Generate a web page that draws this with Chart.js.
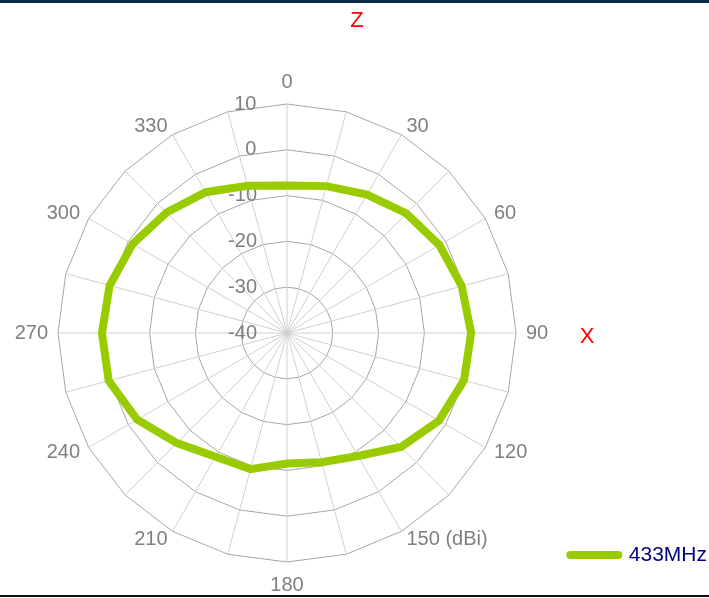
<!DOCTYPE html>
<html><head><meta charset="utf-8">
<script src="https://cdn.jsdelivr.net/npm/chart.js@4/dist/chart.umd.min.js"></script>
<style>
html,body{margin:0;padding:0;background:#fff;overflow:hidden}
#wrap{position:relative;width:709px;height:598px}
#topbar{position:absolute;left:0;top:0;width:709px;height:3px;background:#0b2b43}
#botline{position:absolute;left:0;top:595px;width:709px;height:2px;background:#111}
</style></head><body>
<div id="wrap"><canvas id="c" width="709" height="598"></canvas><div id="topbar"></div><div id="botline"></div></div>
<script>
// ---- data ----
const angles = [0,15,30,45,60,75,90,105,120,135,150,165,180,195,210,225,240,255,270,285,300,315,330,345];
const angleLabels = ['0','','30','','60','','90','','120','','150','','180','','210','','240','','270','','300','','330',''];
const unitLabel = '(dBi)';
const seriesName = '433MHz';
const gain433 = [-7.8,-6.8,-5.1,-3.1,-1.6,-0.5,0.2,0.0,-1.7,-4.8,-9.0,-10.8,-11.5,-9.2,-8.8,-6.0,-2.2,0.3,0.4,0.1,-1.1,-2.8,-4.5,-6.7];
const radialMin = -40, radialMax = 10, radialStep = 10;
const titleText = 'Z';
const sideText = 'X';

const FONT = "'Liberation Sans', Arial, sans-serif";
const GREY = '#808080';

const mctx = document.createElement('canvas').getContext('2d');
mctx.font = '20px ' + FONT;
function padRight(s){
  const w = mctx.measureText(s).width, sp = mctx.measureText(' ').width;
  return s + ' '.repeat(Math.max(0, Math.round((w + 62) / sp)));
}
function labelPad(i){ return i === 0 ? 10 : (i === 12 ? 11 : -2); }

const sideLabel = {
  id: 'sideLabel',
  afterDraw(chart){
    const s = chart.scales.r, ctx = chart.ctx;
    ctx.save();
    ctx.font = '22px ' + FONT;
    ctx.fillStyle = '#ff0000';
    ctx.textAlign = 'center';
    ctx.textBaseline = 'middle';
    ctx.fillText(sideText, s.xCenter + 300, s.yCenter + 4);
    ctx.restore();
  }
};

new Chart(document.getElementById('c'), {
  type: 'radar',
  data: {
    labels: angleLabels,
    datasets: [{
      label: seriesName,
      data: gain433,
      borderColor: '#99cc00',
      backgroundColor: '#99cc00',
      borderWidth: 8,
      borderCapStyle: 'round',
      pointRadius: 0,
      pointHitRadius: 0,
      pointStyle: 'line',
      fill: false
    }]
  },
  plugins: [sideLabel],
  options: {
    responsive: false,
    animation: false,
    layout: { padding: { top: 0, left: 9, right: -8, bottom: 12 } },
    plugins: {
      tooltip: { enabled: false },
      title: {
        display: true, text: titleText + '  ', color: '#ff0000',
        font: { family: FONT, size: 22, weight: 'normal' },
        padding: { top: 8, bottom: 47.6 }
      },
      legend: {
        position: 'right', align: 'end',
        labels: {
          usePointStyle: true, pointStyleWidth: 48, padding: 15,
          color: '#000080', font: { family: FONT, size: 21, lineHeight: '26.5px' },
          generateLabels(chart){
            return Chart.defaults.plugins.legend.labels.generateLabels(chart).map(it =>
              Object.assign(it, { text: [it.text], pointStyle: 'line', lineCap: 'round' }));
          }
        }
      }
    },
    scales: {
      r: {
        min: radialMin, max: radialMax, startAngle: 0,
        grid: { circular: false, color: '#a6a6a6', lineWidth: 1 },
        angleLines: { color: '#d0d0d0', lineWidth: 1 },
        ticks: {
          stepSize: radialStep, showLabelBackdrop: false, color: GREY,
          font: { family: FONT, size: 20 },
          callback: (v) => padRight(String(v))
        },
        pointLabels: {
          color: GREY,
          font: { family: FONT, size: 20, lineHeight: 0 },
          padding: (ctx) => labelPad(ctx.index),
          callback: (label, i) => i === 10 ? label + ' ' + unitLabel : label
        }
      }
    }
  }
});
</script>
</body></html>
